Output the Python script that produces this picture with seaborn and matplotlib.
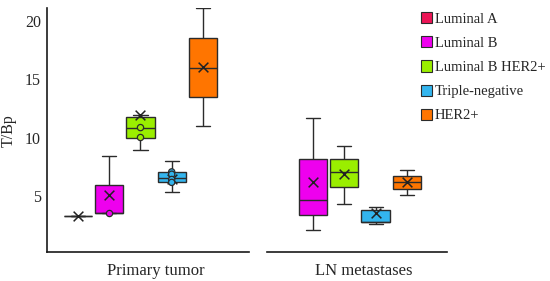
import numpy as np
import pandas as pd
import matplotlib
matplotlib.use('Agg')
import matplotlib.pyplot as plt
from matplotlib.patches import Patch
import seaborn as sns

# subtypes and colours
subtypes = ['Luminal A', 'Luminal B', 'Luminal B HER2+', 'Triple-negative', 'HER2+']
colors = ['#EC1556', '#EE00EE', '#9AEE00', '#33B5EE', '#FF7500']

# five-number summaries (min, q1, median, q3, max)
primary_min = [3.3, 3.5, 8.9, 5.3, 11.0]
primary_q1 = [3.3, 3.5, 10.0, 6.15, 13.5]
primary_med = [3.3, 3.5, 10.85, 6.55, 16.0]
primary_q3 = [3.3, 5.95, 11.75, 7.05, 18.55]
primary_max = [3.3, 8.4, 11.9, 7.95, 21.1]
primary_mean = [3.3, 5.1, 11.9, 6.43, 16.05]

ln_min = [np.nan, 2.05, 4.3, 2.6, 5.1]
ln_q1 = [np.nan, 3.35, 5.72, 2.73, 5.6]
ln_med = [np.nan, 4.66, 7.0, 2.76, 6.14]
ln_q3 = [np.nan, 8.16, 8.16, 3.75, 6.66]
ln_max = [np.nan, 11.7, 9.27, 4.0, 7.19]
ln_mean = [np.nan, 6.14, 6.91, 3.55, 6.14]

# inner points shown in the primary tumor boxes
inner_group = ['Luminal B', 'Luminal B HER2+', 'Luminal B HER2+',
               'Triple-negative', 'Triple-negative', 'Triple-negative', 'Triple-negative']
inner_value = [3.5, 10.0, 10.85, 7.05, 6.85, 6.4, 6.15]


def long_table(site, mins, q1s, meds, q3s, maxs):
    rows = []
    for i, g in enumerate(subtypes):
        for v in (mins[i], q1s[i], meds[i], q3s[i], maxs[i]):
            if not np.isnan(v):
                rows.append({'site': site, 'subtype': g, 'value': v})
    return pd.DataFrame(rows)


df_prim = long_table('Primary tumor', primary_min, primary_q1, primary_med, primary_q3, primary_max)
df_ln = long_table('LN metastases', ln_min, ln_q1, ln_med, ln_q3, ln_max)
mean_prim = pd.DataFrame({'site': 'Primary tumor', 'subtype': subtypes, 'value': primary_mean})
mean_ln = pd.DataFrame({'site': 'LN metastases', 'subtype': subtypes, 'value': ln_mean}).dropna()
inner_prim = pd.DataFrame({'site': 'Primary tumor', 'subtype': inner_group, 'value': inner_value})

sns.set_style('white')
plt.rcParams['font.family'] = ['Liberation Serif', 'DejaVu Serif']

pal = dict(zip(subtypes, colors))
blk = dict(zip(subtypes, ['#222222'] * 5))
edge = '#2b2b2b'

fig = plt.figure(figsize=(5.5, 2.81), dpi=100)
ax1 = fig.add_axes([0.0849, 0.1021, 0.3684, 0.869])
ax2 = fig.add_axes([0.4849, 0.1021, 0.3273, 0.869])

box_kw = dict(x='site', y='value', hue='subtype', hue_order=subtypes, palette=pal,
              whis=(0, 100), gap=0.1, linewidth=1, linecolor=edge, saturation=1,
              legend=False)

for ax, d, m in [(ax1, df_prim, mean_prim), (ax2, df_ln, mean_ln)]:
    sns.boxplot(data=d, ax=ax, **box_kw)
    sns.stripplot(data=m, x='site', y='value', hue='subtype', hue_order=subtypes,
                  palette=blk, dodge=True, jitter=False, marker='x', s=7,
                  linewidth=1.1, legend=False, ax=ax)

sns.stripplot(data=inner_prim, x='site', y='value', hue='subtype', hue_order=subtypes,
              palette=pal, dodge=True, jitter=False, marker='o', s=4.5,
              edgecolor=edge, linewidth=0.9, legend=False, ax=ax1)

for ax, site in [(ax1, 'Primary tumor'), (ax2, 'LN metastases')]:
    ax.set_ylim(0.15, 21.1)
    ax.set_ylabel('')
    ax.set_xticks([])
    ax.set_xlabel(site, fontsize=12, labelpad=8, x=0.537)
    sns.despine(ax=ax)
    for s in ax.spines.values():
        s.set_color('#1a1a1a')
        s.set_linewidth(1.2)

ax1.set_xlim(-0.481, 0.558)
ax2.set_xlim(-0.398, 0.525)
ax1.set_yticks([5, 10, 15, 20])
ax1.tick_params(axis='y', direction='inout', length=6, width=1, labelsize=11.5, pad=1)
ax1.set_ylabel('T/Bp', fontsize=11.5, labelpad=6)

ax2.spines['left'].set_visible(False)
ax2.set_yticks([])

handles = [Patch(facecolor=c, edgecolor=edge, linewidth=0.8, label=g) for g, c in zip(subtypes, colors)]
fig.legend(handles=handles, loc='upper left', bbox_to_anchor=(0.746, 0.993), frameon=False,
           fontsize=10.5, handlelength=0.8, handleheight=0.8, handletextpad=0.2,
           labelspacing=0.72, borderaxespad=0.3)

fig.savefig('out.png', dpi=100)
